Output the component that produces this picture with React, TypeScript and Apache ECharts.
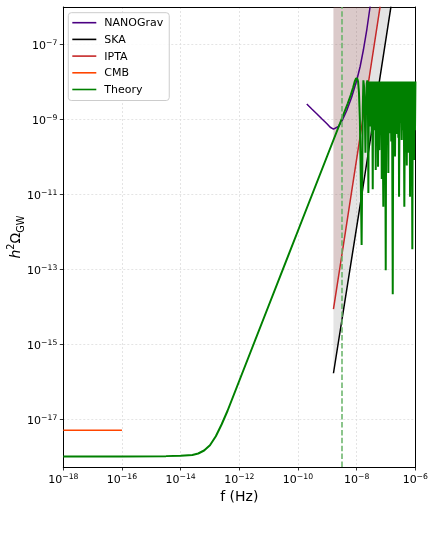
import React, { useEffect, useRef } from 'react';
import * as echarts from 'echarts';

const FONT = 'DejaVu Sans';

// Axes (log10 exponents)
const xTickExponents = [-18, -16, -14, -12, -10, -8, -6];
const yTickExponents = [-17, -15, -13, -11, -9, -7];
const xRange = [-18, -6];
const yRange = [-18.28, -6.013];

// Curves, in log10(f / Hz) and log10(h^2 Omega_GW)
const nanogravLogF = [-9.7, -9.52, -9.36, -9.18, -9.02, -8.9, -8.79, -8.62, -8.48, -8.34, -8.17, -8.0, -7.88, -7.77, -7.65, -7.54];
const nanogravLogOmega = [-8.6, -8.74, -8.86, -9.0, -9.12, -9.22, -9.27, -9.2, -9.02, -8.78, -8.42, -7.98, -7.6, -7.16, -6.6, -6.0];

const skaLogF = [-8.79, -7.8, -6.83];
const skaLogOmega = [-15.78, -10.9, -6.0];

const iptaLogF = [-8.79, -8.51, -8.0, -7.6, -7.2];
const iptaLogOmega = [-14.07, -12.66, -10.07, -8.04, -6.0];

const cmbLogF = [-18, -16];
const cmbLogOmega = [-17.3, -17.3];

const transitionLogF = -8.51;

const theoryRise: [number, number][] = [
  [-18, -18.0], [-16, -18.0], [-14.5, -17.99], [-14, -17.98], [-13.6, -17.96], [-13.4, -17.92],
  [-13.2, -17.84], [-13.0, -17.7], [-12.8, -17.46], [-12.6, -17.14], [-12.4, -16.78], [-12.2, -16.38],
  [-12.0, -15.98], [-11.5, -14.98], [-11.0, -13.98], [-10.0, -11.98], [-9.0, -9.98], [-8.5, -8.98],
  [-8.3, -8.58], [-8.2, -8.36], [-8.12, -8.16], [-8.06, -7.99], [-8.02, -7.92], [-7.98, -7.92],
];
const theoryPeaks: [number, number][] = [
  [-7.95, -8.0], [-7.92, -8.3], [-7.89, -9.0], [-7.86, -10.5], [-7.83, -12.36], [-7.81, -10.4],
  [-7.79, -8.7], [-7.77, -7.97], [-7.745, -8.15], [-7.72, -8.9], [-7.7, -9.9], [-7.68, -8.8],
  [-7.655, -8.05], [-7.635, -7.97], [-7.615, -8.5], [-7.6, -10.97], [-7.585, -8.4],
];
const theoryOscillation: [number, number][] = [
  [-7.57, -8.0], [-7.555, -9.2], [-7.54, -8.0], [-7.52, -8.9], [-7.5, -8.0], [-7.485, -9.4],
  [-7.47, -8.0], [-7.451, -10.87], [-7.435, -8.0], [-7.42, -9.1], [-7.4, -8.0], [-7.385, -9.3],
  [-7.365, -8.0], [-7.349, -10.36], [-7.33, -8.0], [-7.31, -9.0], [-7.29, -8.0], [-7.27, -10.27],
  [-7.25, -8.0], [-7.226, -9.83], [-7.2, -8.0], [-7.18, -9.2], [-7.16, -8.0], [-7.144, -10.6],
  [-7.125, -8.0], [-7.09, -11.34], [-7.07, -8.0], [-7.05, -9.1], [-7.03, -8.0], [-7.008, -13.03],
  [-6.99, -8.0], [-6.97, -9.3], [-6.945, -8.0], [-6.919, -10.44], [-6.905, -8.0], [-6.89, -9.0],
  [-6.875, -8.0], [-6.861, -9.38], [-6.84, -8.0], [-6.82, -9.6], [-6.795, -8.0], [-6.769, -13.67],
  [-6.75, -8.0], [-6.73, -9.2], [-6.71, -8.0], [-6.691, -10.0], [-6.67, -8.0], [-6.65, -9.4],
  [-6.63, -8.0], [-6.612, -8.84], [-6.595, -8.0], [-6.58, -9.5], [-6.567, -8.0], [-6.554, -11.07],
  [-6.53, -8.0], [-6.51, -9.1], [-6.485, -8.0], [-6.462, -9.56], [-6.44, -8.0], [-6.42, -9.3],
  [-6.395, -8.0], [-6.374, -11.34], [-6.35, -8.0], [-6.33, -9.7], [-6.31, -8.0], [-6.291, -10.24],
  [-6.275, -8.0], [-6.26, -9.2], [-6.248, -8.0], [-6.237, -9.9], [-6.223, -8.0], [-6.21, -9.4],
  [-6.195, -8.0], [-6.179, -11.07], [-6.16, -8.0], [-6.14, -9.5], [-6.12, -8.0], [-6.101, -12.47],
  [-6.085, -8.0], [-6.07, -9.2], [-6.056, -8.0], [-6.043, -10.09], [-6.025, -8.0], [-6.01, -9.3],
  [-5.995, -8.0],
];

const legendNames = ['NANOGrav', 'SKA', 'IPTA', 'CMB', 'Theory'];

const zip = (a: number[], b: number[]) => a.map((v, i) => [v, b[i]]);

const tickRich = {
  b: { fontSize: 11, lineHeight: 14, fontFamily: FONT, color: '#000' },
  s: { fontSize: 7.7, lineHeight: 7, verticalAlign: 'top', fontFamily: FONT, color: '#000' },
};
const tickFormatter = (v: number) => `{b|10}{s|\u2212${Math.abs(Math.round(v))}}`;

export default function App() {
  const ref = useRef<HTMLDivElement>(null);
  useEffect(() => {
    if (!ref.current) return;
    const chart = echarts.init(ref.current, undefined, { renderer: 'svg' });
    const lineBase = { type: 'line', symbol: 'none', showSymbol: false, silent: true, z: 3 } as any;
    const frameAxis = {
      type: 'value', show: true, axisLine: { show: true, lineStyle: { color: '#000', width: 1 } },
      axisTick: { show: false }, axisLabel: { show: false }, splitLine: { show: false },
    };
    chart.setOption({
      animation: false,
      textStyle: { fontFamily: FONT },
      grid: { left: 63.3, top: 7, width: 352, height: 460, outerBoundsMode: 'none', containLabel: false },
      legend: {
        data: legendNames,
        orient: 'vertical',
        left: 68.3,
        top: 12.7,
        icon: 'rect',
        itemWidth: 24,
        itemHeight: 1.6,
        itemGap: 2.7,
        padding: [3, 6, 4, 4],
        backgroundColor: 'rgba(255,255,255,0.85)',
        borderColor: '#cccccc',
        borderWidth: 1,
        borderRadius: 3,
        textStyle: { fontSize: 11, lineHeight: 14, fontFamily: FONT, color: '#000', padding: [0, 0, 0, 3] },
      },
      xAxis: [
        {
          type: 'value',
          min: xRange[0],
          max: xRange[1],
          interval: 2,
          name: 'f (Hz)',
          nameLocation: 'middle',
          nameGap: 22,
          nameMoveOverlap: false,
          nameTextStyle: { fontSize: 14, fontFamily: FONT, color: '#000' },
          axisLine: { show: true, lineStyle: { color: '#000', width: 1 } },
          axisTick: { show: true, length: 3.5, lineStyle: { color: '#000', width: 0.8 }, customValues: xTickExponents },
          axisLabel: { margin: 5, formatter: tickFormatter, rich: tickRich, customValues: xTickExponents },
          splitLine: { show: true, lineStyle: { color: '#dddddd', type: [2, 2], width: 0.8 } },
        },
        { ...frameAxis, position: 'top', min: xRange[0], max: xRange[1] },
      ],
      yAxis: [
        {
          type: 'value',
          min: yRange[0],
          max: yRange[1],
          name: '{i|h}{p|2}{o|\u03a9}{g|GW}',
          nameLocation: 'middle',
          nameGap: 38,
          nameMoveOverlap: false,
          nameTextStyle: {
            rich: {
              i: { fontSize: 14, fontStyle: 'italic', lineHeight: 20, fontFamily: FONT, color: '#000' },
              p: { fontSize: 9.8, lineHeight: 10, verticalAlign: 'top', fontFamily: FONT, color: '#000' },
              o: { fontSize: 14, lineHeight: 20, fontFamily: FONT, color: '#000' },
              g: { fontSize: 9.8, lineHeight: 10, verticalAlign: 'bottom', fontFamily: FONT, color: '#000' },
            },
          },
          axisLine: { show: true, lineStyle: { color: '#000', width: 1 } },
          axisTick: { show: true, length: 3.5, lineStyle: { color: '#000', width: 0.8 }, customValues: yTickExponents },
          axisLabel: { margin: 6, padding: [3, 0, 0, 0], formatter: tickFormatter, rich: tickRich, customValues: yTickExponents },
          splitLine: { show: true, lineStyle: { color: '#dddddd', type: [2, 2], width: 0.8 } },
        },
        { ...frameAxis, position: 'right', min: yRange[0], max: yRange[1] },
      ],
      series: [
        { ...lineBase, name: 'SKA region', z: 1, data: zip(skaLogF, skaLogOmega), lineStyle: { width: 0, opacity: 0 }, areaStyle: { origin: 'end', color: 'rgba(128,128,128,0.3)' } },
        { ...lineBase, name: 'IPTA region', z: 1, data: zip(iptaLogF, iptaLogOmega), lineStyle: { width: 0, opacity: 0 }, areaStyle: { origin: 'end', color: 'rgba(165,42,42,0.2)' } },
        {
          ...lineBase, name: 'transition', z: 2, data: [],
          markLine: { silent: true, symbol: ['none', 'none'], label: { show: false }, lineStyle: { color: '#66b366', type: [5.5, 2.4], width: 1.5 }, data: [{ xAxis: transitionLogF }] },
        },
        { ...lineBase, name: 'NANOGrav', color: '#4B0082', itemStyle: { color: '#4B0082' }, data: zip(nanogravLogF, nanogravLogOmega), lineStyle: { width: 1.5, color: '#4B0082' } },
        { ...lineBase, name: 'SKA', color: '#000', itemStyle: { color: '#000' }, data: zip(skaLogF, skaLogOmega), lineStyle: { width: 1.5, color: '#000' } },
        { ...lineBase, name: 'IPTA', color: '#c62828', itemStyle: { color: '#c62828' }, data: zip(iptaLogF, iptaLogOmega), lineStyle: { width: 1.5, color: '#c62828' } },
        { ...lineBase, name: 'CMB', color: '#ff4500', itemStyle: { color: '#ff4500' }, data: zip(cmbLogF, cmbLogOmega), lineStyle: { width: 1.5, color: '#ff4500' } },
        {
          ...lineBase, name: 'Theory', z: 4, color: '#008000', itemStyle: { color: '#008000' },
          data: [...theoryRise, ...theoryPeaks, ...theoryOscillation],
          lineStyle: { width: 2, color: '#008000', join: 'bevel' },
        },
      ],
    });
    return () => chart.dispose();
  }, []);
  return <div ref={ref} style={{ position: 'fixed', left: 0, top: 0, width: 434, height: 545 }} />;
}
